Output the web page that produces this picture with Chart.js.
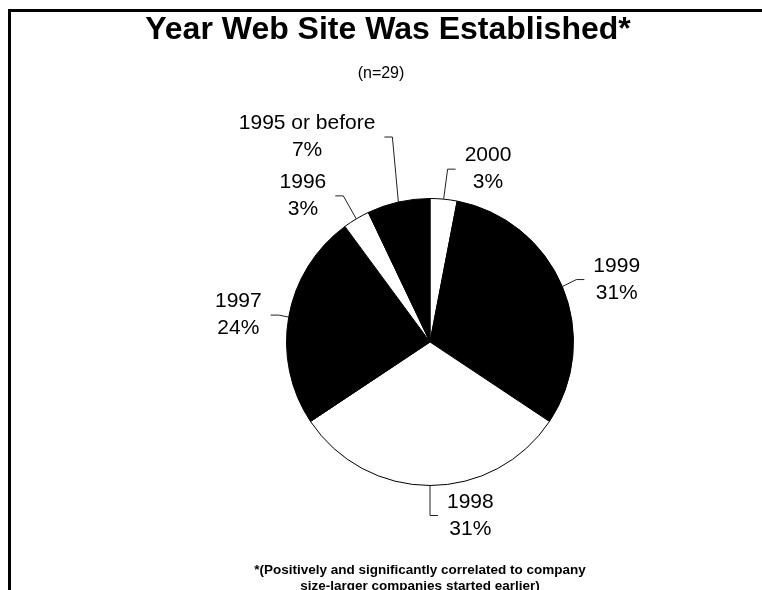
<!DOCTYPE html>
<html>
<head>
<meta charset="utf-8">
<script src="https://cdn.jsdelivr.net/npm/chart.js@4/dist/chart.umd.min.js"></script>
<style>
  body { margin: 0; background: #fff; overflow: hidden; }
  #frame { position: absolute; left: 8px; top: 9px; width: 900px; height: 700px; border: 3px solid #000; }
  #pieChart { position: absolute; left: 0; top: 0; }
</style>
</head>
<body>
<div id="frame"></div>
<canvas id="pieChart" width="762" height="590"></canvas>
<script>
const titleText = 'Year Web Site Was Established*';
const subtitleText = '(n=29)';
const noteLines = ['*(Positively and significantly correlated to company', 'size-larger companies started earlier)'];

const godine = ['2000', '1999', '1998', '1997', '1996', '1995 or before'];
const procenti = [3, 31, 31, 24, 3, 7];
const boje = ['#ffffff', '#000000', '#ffffff', '#000000', '#ffffff', '#000000'];

// leader line bend relative to the slice edge: [dx, dy, side]
const savijanje = [[4, -30, 1], [14, -7, 1], [0, 30, 1], [-10, -2, -1], [-13, -23, -1], [-6, -65, -1]];

const FONT = '"Liberation Sans", Arial, sans-serif';

const textPlugin = {
    id: 'textPlugin',
    afterDraw(chart) {
        const ctx = chart.ctx;
        ctx.save();
        ctx.fillStyle = '#000';
        ctx.textAlign = 'center';
        ctx.textBaseline = 'middle';

        ctx.font = 'bold 32px ' + FONT;
        ctx.fillText(titleText, 388, 30);
        ctx.font = '16px ' + FONT;
        ctx.fillText(subtitleText, 381, 74);
        ctx.font = 'bold 13.5px ' + FONT;
        noteLines.forEach((line, i) => ctx.fillText(line, 420, 570 + i * 16));

        // slice labels with leader lines
        const meta = chart.getDatasetMeta(0);
        ctx.font = '21px ' + FONT;
        meta.data.forEach((arc, i) => {
            const p = arc.getProps(['x', 'y', 'startAngle', 'endAngle', 'outerRadius'], true);
            const mid = (p.startAngle + p.endAngle) / 2;
            const ex = p.x + Math.cos(mid) * p.outerRadius;
            const ey = p.y + Math.sin(mid) * p.outerRadius;
            const [dx, dy, side] = savijanje[i];
            const bx = ex + dx;
            const by = ey + dy;
            const kx = bx + side * 8;
            ctx.strokeStyle = '#222';
            ctx.lineWidth = 1;
            ctx.beginPath();
            ctx.moveTo(ex, ey);
            ctx.lineTo(bx, by);
            ctx.lineTo(kx, by);
            ctx.stroke();

            const lines = [godine[i], procenti[i] + '%'];
            const w = Math.max(...lines.map(t => ctx.measureText(t).width));
            const cx = kx + side * (9 + w / 2);
            lines.forEach((t, j) => ctx.fillText(t, cx, by - 13.5 + j * 27));
        });
        ctx.restore();
    }
};

new Chart(document.getElementById('pieChart'), {
    type: 'pie',
    data: {
        labels: godine,
        datasets: [{
            data: procenti,
            backgroundColor: boje,
            borderColor: '#000',
            borderWidth: 1
        }]
    },
    options: {
        responsive: false,
        animation: false,
        devicePixelRatio: 1,
        layout: {
            padding: { left: 286, right: 188, top: 198, bottom: 104 }
        },
        plugins: {
            legend: { display: false },
            tooltip: { enabled: false },
            title: { display: false }
        }
    },
    plugins: [textPlugin]
});
</script>
</body>
</html>
